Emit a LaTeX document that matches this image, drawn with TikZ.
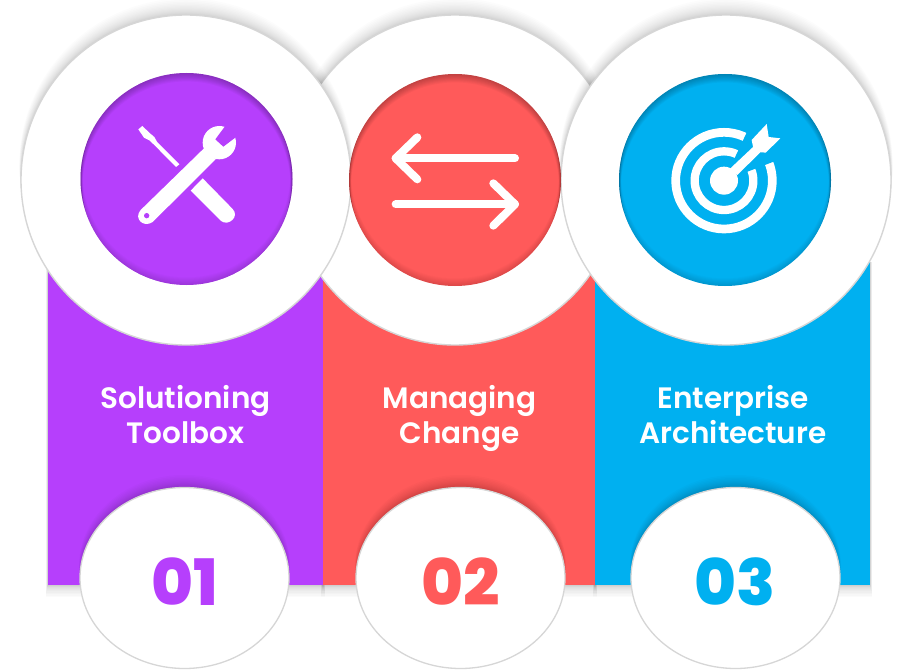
\documentclass[tikz,border=0pt]{standalone}
\usepackage{fontspec}
\setmainfont{Poppins}
\newfontfamily\semibold[UprightFont=* SemiBold]{Poppins}
\newfontfamily\heavy[UprightFont=* ExtraBold]{Poppins}
\definecolor{cpurple}{HTML}{B63FFC}
\definecolor{cred}{HTML}{FF5A5A}
\definecolor{cblue}{HTML}{00B0F0}
\definecolor{ringgrey}{HTML}{D6D6D6}
\tikzset{
  titletext/.style={text=white,font=\semibold\fontsize{29.5}{35}\selectfont,align=center},
  numtext/.style={font=\heavy\fontsize{64}{64}\selectfont,inner sep=0pt},
  iconline/.style={draw=white,line width=8pt,line cap=round,line join=round},
}
% big disc: soft shadow thrown upward, thin rim
\newcommand{\bigdisc}[2]{%
  \foreach \i in {1,...,18}{\fill[black,opacity=.012] (#1,#2-15*\i*\i/324) circle[radius=164.5+\i*.12];}
  \fill[white,draw=ringgrey,line width=1.4pt] (#1,#2) circle[radius=165];
}
% coloured disc with an inner shadow, strongest at top
\newcommand{\innerdisc}[3]{%
  \fill[#3] (#1,#2) circle[radius=106];
  \begin{scope}
    \clip (#1,#2) circle[radius=106];
    \foreach \i in {1,...,8}{
      \fill[black,opacity=.03,even odd rule] (#1,#2) circle[radius=125] (#1,#2+\i*.8) circle[radius=106-\i*.25];
      \fill[black,opacity=.016,even odd rule] (#1,#2) circle[radius=125] (#1,#2-\i*.7) circle[radius=106-\i*.25];
    }
  \end{scope}
}
\newcommand{\lowdisc}[1]{%
  \foreach \i in {1,...,16}{\fill[black,opacity=.014] (#1,578-13*\i*\i/256) ellipse[x radius=104+\i*.08,y radius=90];}
  \fill[white,draw=ringgrey,line width=1.3pt] (#1,578) ellipse[x radius=104.5,y radius=90.5];
}
\newcommand{\bandshadow}[2]{%
  \foreach \i in {1,...,14}{\fill[black,opacity=.014] (#1-\i*.15,262) rectangle (#2+\i*.15,585+\i*\i/16);}
}
\begin{document}
\begin{tikzpicture}[x=1pt,y=-1pt]
\useasboundingbox (0,0) rectangle (904,671);
\fill[white] (0,0) rectangle (904,671);
% bands
\bandshadow{48}{323}
\bandshadow{323}{595}
\bandshadow{595}{870}
\fill[cpurple] (48,200) rectangle (324,585);
\fill[cred] (323,200) rectangle (596,585);
\fill[cblue] (595,200) rectangle (870,585);
% large discs
\bigdisc{455}{180}
\bigdisc{186}{180}
\bigdisc{726}{180}
% coloured discs
\innerdisc{186.5}{179}{cpurple}
\innerdisc{455}{180}{cred}
\innerdisc{725}{180}{cblue}
% tools icon
\begin{scope}[shift={(120,115)},scale=1/3]
  \fill[white] (55,43) -- (67,33) -- (90,55) -- (103,66) -- (112,82) -- (178,148) -- (168,156) -- (103,90) -- (88,76) -- (72,68) -- cycle;
\end{scope}
\begin{scope}[shift={(60,60)},scale=1/3]
  \fill[white] (428,355) -- (392,392) -- (483,483) .. controls (505,500) and (540,470) .. (518,447) -- cycle;
  \fill[white] (242,450) -- (432,265) -- (467,298) -- (278,486) .. controls (250,505) and (220,475) .. (242,450) -- cycle;
  \fill[white] (478,248) circle[radius=50];
  \fill[cpurple] (495,199) -- (466,238) -- (490,260) -- (527,232) -- (560,190) -- (520,165) -- cycle;
  \fill[cpurple] (260,467) circle[radius=8];
\end{scope}
% arrows icon
\begin{scope}[shift={(330,60)},scale=1/3]
  \draw[iconline] (555,295) -- (197,295);
  \draw[iconline] (262,232) -- (197,295) -- (262,358);
  \draw[iconline] (197,433) -- (555,433);
  \draw[iconline] (490,370) -- (555,433) -- (490,497);
\end{scope}
% target icon
\begin{scope}[shift={(600,60)},scale=1/3]
  \draw[white,line width=8.7pt] (372,362) circle[radius=145];
  \draw[white,line width=8.3pt] (372,362) circle[radius=88];
  \fill[cblue] (372,362) -- (446,205) -- (560,290) -- cycle;
  \fill[white] (372,362) circle[radius=42];
  \fill[white] (388,328) -- (458,262) -- (482,276) -- (412,345) -- cycle;
  \fill[white] (500,192) -- (506,231) -- (541,235) -- (497,278) -- (462,275) -- (455,240) -- cycle;
\end{scope}
% lower discs
\lowdisc{184.5}
\lowdisc{460.5}
\lowdisc{735.5}
% texts
\node[titletext] (t1) at (185.5,419) {\strut Solutioning\\Toolbox\strut};
\node[titletext] (t2) at (459.5,419) {\strut Managing\\Change\strut};
\node[titletext] (t3) at (733,419) {\strut Enterprise\\Architecture\strut};
\node[numtext,text=cpurple] (n1) at (185,582) {01};
\node[numtext,text=cred] (n2) at (461,582) {02};
\node[numtext,text=cblue] (n3) at (735,582) {03};
\end{tikzpicture}
\end{document}
